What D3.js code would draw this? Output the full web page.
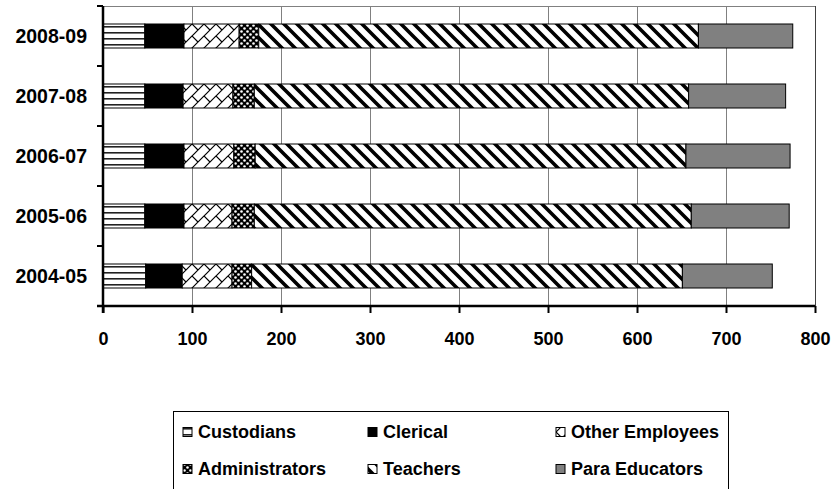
<!DOCTYPE html>
<html>
<head>
<meta charset="utf-8">
<script src="https://cdn.jsdelivr.net/npm/d3@7"></script>
<style>
  body { margin: 0; background: #fff; }
  svg { display: block; }
  text { font-family: "Liberation Sans", Arial, sans-serif; font-weight: bold; fill: #000; }
</style>
</head>
<body>
<svg id="chart" width="837" height="489"></svg>
<script>
// Staff counts by school year (FTE), stacked by position type
const years = ["2004-05", "2005-06", "2006-07", "2007-08", "2008-09"];
const custodians     = [48, 47, 47, 47, 47];
const clerical       = [41, 44, 44, 43, 44];
const otherEmployees = [56, 54, 56, 56, 62];
const administrators = [22, 25, 24, 24, 22];
const teachers       = [484, 491, 484, 488, 494];
const paraEducators  = [101, 110, 117, 109, 106];
const seriesNames = ["Custodians", "Clerical", "Other Employees", "Administrators", "Teachers", "Para Educators"];
const xTicks = [0, 100, 200, 300, 400, 500, 600, 700, 800];

const seriesValues = [custodians, clerical, otherEmployees, administrators, teachers, paraEducators];
const rows = years.map((yr, i) => {
  const r = { year: yr };
  seriesNames.forEach((s, j) => { r[s] = seriesValues[j][i]; });
  return r;
});

const svg = d3.select("#chart");
const plot = { left: 103, right: 815, top: 6, bottom: 306 };

const x = d3.scaleLinear().domain([0, 800]).range([plot.left, plot.right]);
const y = d3.scaleBand()
  .domain(years.slice().reverse())
  .range([plot.top, plot.bottom])
  .paddingInner(0.6)
  .paddingOuter(0.3);

// ---- fill patterns ----
const defs = svg.append("defs");

const pH = defs.append("pattern").attr("id", "p-hlines")
  .attr("patternUnits", "userSpaceOnUse").attr("width", 6).attr("height", 6);
pH.append("rect").attr("width", 6).attr("height", 6).attr("fill", "#fff");
pH.append("rect").attr("y", 2).attr("width", 6).attr("height", 1.6).attr("fill", "#222");

const pB = defs.append("pattern").attr("id", "p-brick")
  .attr("patternUnits", "userSpaceOnUse").attr("width", 12).attr("height", 12);
pB.append("rect").attr("width", 12).attr("height", 12).attr("fill", "#fff");
pB.append("path")
  .attr("d", "M0,12L12,0M-1,1L1,-1M11,13L13,11M0,0L6,6")
  .attr("stroke", "#000").attr("stroke-width", 1.2).attr("fill", "none");

const pD = defs.append("pattern").attr("id", "p-dots")
  .attr("patternUnits", "userSpaceOnUse").attr("width", 6).attr("height", 6);
pD.append("rect").attr("width", 6).attr("height", 6).attr("fill", "#000");
pD.append("circle").attr("cx", 1.5).attr("cy", 1.5).attr("r", 1.3).attr("fill", "#fff");
pD.append("circle").attr("cx", 4.5).attr("cy", 4.5).attr("r", 1.3).attr("fill", "#fff");

const pS = defs.append("pattern").attr("id", "p-stripes")
  .attr("patternUnits", "userSpaceOnUse").attr("width", 13).attr("height", 13);
pS.append("rect").attr("width", 13).attr("height", 13).attr("fill", "#fff");
pS.append("path")
  .attr("d", "M0,0L13,13M-3,10L3,16M10,-3L16,3")
  .attr("stroke", "#000").attr("stroke-width", 3.6).attr("fill", "none");

const fills = {
  "Custodians": "url(#p-hlines)",
  "Clerical": "#000",
  "Other Employees": "url(#p-brick)",
  "Administrators": "url(#p-dots)",
  "Teachers": "url(#p-stripes)",
  "Para Educators": "#808080"
};

// ---- gridlines ----
svg.append("line")
  .attr("x1", plot.left).attr("x2", plot.right)
  .attr("y1", plot.top + 0.5).attr("y2", plot.top + 0.5)
  .attr("stroke", "#808080").attr("stroke-width", 1);

svg.append("g").selectAll("line")
  .data(xTicks.filter(d => d > 0))
  .join("line")
  .attr("x1", d => Math.round(x(d)) + 0.5).attr("x2", d => Math.round(x(d)) + 0.5)
  .attr("y1", plot.top).attr("y2", plot.bottom)
  .attr("stroke", d => d === 800 ? "#404040" : "#808080")
  .attr("stroke-width", 1);

// ---- stacked bars ----
const stacked = d3.stack().keys(seriesNames)(rows);
svg.append("g").selectAll("g")
  .data(stacked)
  .join("g")
  .attr("fill", d => fills[d.key])
  .selectAll("rect")
  .data(d => d)
  .join("rect")
  .attr("x", d => x(d[0]))
  .attr("y", d => y(d.data.year))
  .attr("width", d => x(d[1]) - x(d[0]))
  .attr("height", y.bandwidth())
  .attr("stroke", "#000")
  .attr("stroke-width", 1);

// ---- axes ----
const xAxis = svg.append("g")
  .attr("transform", `translate(0,${plot.bottom})`)
  .call(d3.axisBottom(x).tickValues(xTicks).tickSize(7).tickPadding(19).tickFormat(d3.format("d")));
xAxis.select(".domain").attr("stroke", "#000").attr("stroke-width", 2.5)
  .attr("d", `M${plot.left - 6},0H${plot.right}`);
xAxis.selectAll(".tick line").attr("stroke", "#000").attr("stroke-width", 2);
xAxis.selectAll(".tick text").attr("font-size", 18).style("font-family", '"Liberation Sans", Arial, sans-serif').style("font-weight", "bold");

// y axis: ticks at category boundaries
const yEdges = d3.range(years.length + 1).map(i => plot.top + i * y.step());
const yAxis = svg.append("g");
yAxis.append("line")
  .attr("x1", plot.left).attr("x2", plot.left)
  .attr("y1", plot.top).attr("y2", plot.bottom + 7)
  .attr("stroke", "#000").attr("stroke-width", 2.5);
yAxis.selectAll(".edge")
  .data(yEdges)
  .join("line")
  .attr("class", "edge")
  .attr("x1", plot.left - 6).attr("x2", plot.left)
  .attr("y1", d => d).attr("y2", d => d)
  .attr("stroke", "#000").attr("stroke-width", 2);
yAxis.selectAll("text")
  .data(years)
  .join("text")
  .attr("x", 87)
  .attr("y", d => y(d) + y.bandwidth() / 2)
  .attr("dy", "0.35em")
  .attr("text-anchor", "end")
  .attr("font-size", 19.5)
  .text(d => d);

// ---- legend ----
const legend = svg.append("g");
legend.append("rect")
  .attr("x", 173.5).attr("y", 411.5)
  .attr("width", 555).attr("height", 90)
  .attr("fill", "#fff").attr("stroke", "#000").attr("stroke-width", 1);

const colX = [183, 368, 556];
const rowY = [432, 469];
const items = legend.selectAll(".item")
  .data(seriesNames)
  .join("g")
  .attr("class", "item")
  .attr("transform", (d, i) => `translate(${colX[i % 3]},${rowY[Math.floor(i / 3)]})`);
items.append("rect")
  .attr("x", 0).attr("y", -4.5)
  .attr("width", 9).attr("height", 9)
  .attr("fill", d => fills[d])
  .attr("stroke", "#000").attr("stroke-width", 1);
items.append("text")
  .attr("x", 15)
  .attr("dy", "0.35em")
  .attr("font-size", 18)
  .text(d => d);
</script>
</body>
</html>
